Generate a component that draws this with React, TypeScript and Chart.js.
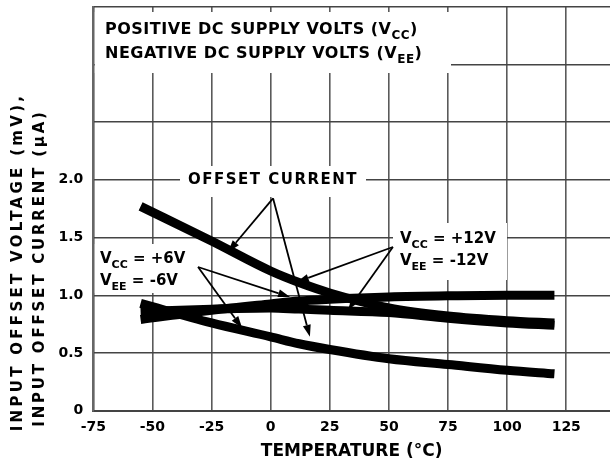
import { useEffect, useRef } from "react";
import { Chart, registerables } from "chart.js";

Chart.register(...registerables);

// ---- data ----
const temperatures = [-55, -25, 0, 12, 25, 50, 75, 100, 120];
const offsetCurrent12V = [1.77, 1.47, 1.21, 1.11, 1.02, 0.89, 0.82, 0.78, 0.76];
const offsetVoltage6V = [0.79, 0.87, 0.925, 0.95, 0.965, 0.985, 0.995, 1.0, 1.0];
const offsetVoltage12V = [0.86, 0.88, 0.89, 0.88, 0.87, 0.85, 0.8, 0.76, 0.74];
const offsetCurrent6V = [0.93, 0.76, 0.64, 0.58, 0.53, 0.45, 0.4, 0.35, 0.32];

const xMin = -75;
const xMax = 143.5;
const yMin = 0;
const yMax = 3.5;
const yTickLabels: Record<string, string> = { "0": "0", "0.5": "0.5", "1": "1.0", "1.5": "1.5", "2": "2.0" };

// annotation arrows in data coordinates [temperature, value]
const arrows: { from: [number, number]; to: [number, number] }[] = [
  { from: [1.0, 1.84], to: [-18, 1.375] },
  { from: [1.0, 1.84], to: [16.6, 0.64] },
  { from: [-30.7, 1.245], to: [8.2, 0.985] },
  { from: [-30.7, 1.245], to: [-12.1, 0.716] },
  { from: [51.7, 1.418], to: [11.1, 1.115] },
  { from: [51.7, 1.418], to: [32.7, 0.872] },
];

const FONT = '"DejaVu Sans", "Liberation Sans", Arial, sans-serif';

type Part = { t: string; sub?: boolean };

function drawRich(ctx: CanvasRenderingContext2D, parts: Part[], x: number, y: number, size: number, spacing: number) {
  let cx = x;
  for (const p of parts) {
    const fs = p.sub ? Math.round(size * 0.74) : size;
    ctx.font = `bold ${fs}px ${FONT}`;
    (ctx as any).letterSpacing = `${spacing}px`;
    ctx.fillText(p.t, cx, p.sub ? y + size * 0.3 : y);
    cx += ctx.measureText(p.t).width;
  }
}

function drawArrow(ctx: CanvasRenderingContext2D, x1: number, y1: number, x2: number, y2: number) {
  const ang = Math.atan2(y2 - y1, x2 - x1);
  const hl = 12;
  const hw = 4;
  const bx = x2 - hl * Math.cos(ang);
  const by = y2 - hl * Math.sin(ang);
  ctx.beginPath();
  ctx.moveTo(x1, y1);
  ctx.lineTo(bx, by);
  ctx.stroke();
  ctx.beginPath();
  ctx.moveTo(x2, y2);
  ctx.lineTo(bx + hw * Math.sin(ang), by - hw * Math.cos(ang));
  ctx.lineTo(bx - hw * Math.sin(ang), by + hw * Math.cos(ang));
  ctx.closePath();
  ctx.fill();
}

const overlayPlugin = {
  id: "overlay",
  beforeDatasetsDraw(chart: any) {
    const { ctx, chartArea: a } = chart;
    ctx.save();
    ctx.fillStyle = "#ffffff";
    // header box
    ctx.fillRect(a.left + 1.5, 12, 451 - (a.left + 1.5), 61);
    // OFFSET CURRENT label box
    ctx.fillRect(180, 166, 186, 31);
    // +-6V label box
    ctx.fillRect(a.left + 1.5, 244, 200 - (a.left + 1.5), 49);
    // +-12V label box
    ctx.fillRect(393, 223, 114, 57);
    ctx.restore();
  },
  afterDatasetsDraw(chart: any) {
    const { ctx, chartArea: a, scales } = chart;
    const xs = scales.x;
    const ys = scales.y;
    ctx.save();
    ctx.fillStyle = "#000";
    ctx.strokeStyle = "#000";
    ctx.lineWidth = 1.8;
    for (const ar of arrows) {
      drawArrow(
        ctx,
        xs.getPixelForValue(ar.from[0]),
        ys.getPixelForValue(ar.from[1]),
        xs.getPixelForValue(ar.to[0]),
        ys.getPixelForValue(ar.to[1])
      );
    }
    ctx.textBaseline = "alphabetic";
    ctx.textAlign = "left";
    // header
    drawRich(ctx, [{ t: "POSITIVE DC SUPPLY VOLTS (V" }, { t: "CC", sub: true }, { t: ")" }], 105, 34, 16, 0.5);
    drawRich(ctx, [{ t: "NEGATIVE DC SUPPLY VOLTS (V" }, { t: "EE", sub: true }, { t: ")" }], 105, 58, 16, 0.5);
    // OFFSET CURRENT
    drawRich(ctx, [{ t: "OFFSET CURRENT" }], 188, 184, 15, 1.5);
    // +-6V
    drawRich(ctx, [{ t: "V" }, { t: "CC", sub: true }, { t: " = +6V" }], 100, 263, 15, 0);
    drawRich(ctx, [{ t: "V" }, { t: "EE", sub: true }, { t: " = -6V" }], 100, 285, 15, 0);
    // +-12V
    drawRich(ctx, [{ t: "V" }, { t: "CC", sub: true }, { t: " = +12V" }], 400, 243, 15, 0);
    drawRich(ctx, [{ t: "V" }, { t: "EE", sub: true }, { t: " = -12V" }], 400, 265, 15, 0);

    // axis titles
    ctx.textAlign = "center";
    ctx.textBaseline = "middle";
    ctx.font = `bold 17px ${FONT}`;
    (ctx as any).letterSpacing = "0px";
    ctx.fillText("TEMPERATURE (°C)", (a.left + a.right) / 2, 452);

    ctx.save();
    ctx.translate(18, 262);
    ctx.rotate(-Math.PI / 2);
    ctx.font = `bold 15px ${FONT}`;
    (ctx as any).letterSpacing = "3.3px";
    ctx.fillText("INPUT OFFSET VOLTAGE (mV),", 0, 0);
    ctx.restore();
    ctx.save();
    ctx.translate(40, 268);
    ctx.rotate(-Math.PI / 2);
    ctx.font = `bold 15px ${FONT}`;
    (ctx as any).letterSpacing = "2.8px";
    ctx.fillText("INPUT OFFSET CURRENT (µA)", 0, 0);
    ctx.restore();
    ctx.restore();
  },
};

function series(values: number[]) {
  return temperatures.map((t, i) => ({ x: t, y: values[i] }));
}

export default function App() {
  const ref = useRef<HTMLCanvasElement | null>(null);
  useEffect(() => {
    if (!ref.current) return;
    const common = {
      borderColor: "#000",
      backgroundColor: "#000",
      borderWidth: 9,
      pointRadius: 0,
      cubicInterpolationMode: "monotone" as const,
      borderCapStyle: "butt" as const,
      fill: false,
    };
    const chart = new Chart(ref.current, {
      type: "line",
      data: {
        datasets: [
          { label: "Offset current ±12V", data: series(offsetCurrent12V), ...common },
          { label: "Offset voltage ±6V", data: series(offsetVoltage6V), ...common },
          { label: "Offset voltage ±12V", data: series(offsetVoltage12V), ...common },
          { label: "Offset current ±6V", data: series(offsetCurrent6V), ...common },
        ],
      },
      options: {
        animation: false,
        responsive: false,
        maintainAspectRatio: false,
        layout: { padding: { top: 6.7, right: 0, left: 0, bottom: 0 } },
        plugins: { legend: { display: false }, tooltip: { enabled: false }, title: { display: false } },
        scales: {
          x: {
            type: "linear",
            min: xMin,
            max: xMax,
            afterFit: (s: any) => {
              s.height = 55.3;
              s.paddingLeft = 0;
              s.paddingRight = 0;
            },
            ticks: {
              stepSize: 25,
              includeBounds: false,
              autoSkip: false,
              maxRotation: 0,
              padding: 8,
              color: "#000",
              font: { family: FONT, size: 14, weight: "bold" },
            },
            grid: { color: "#5a5a5a", lineWidth: 1.6, drawTicks: false },
            border: { display: true, color: "#444", width: 2 },
          },
          y: {
            type: "linear",
            min: yMin,
            max: yMax,
            afterFit: (s: any) => {
              s.width = 93.3;
              s.paddingTop = 0;
              s.paddingBottom = 0;
            },
            ticks: {
              stepSize: 0.5,
              autoSkip: false,
              padding: 10,
              color: "#000",
              font: { family: FONT, size: 14, weight: "bold" },
              callback: (v: any) => yTickLabels[String(v)] ?? "",
            },
            grid: { color: "#444", lineWidth: 1.4, drawTicks: false },
            border: { display: true, color: "#666", width: 2 },
          },
        },
      },
      plugins: [overlayPlugin],
    });
    return () => chart.destroy();
  }, []);
  return (
    <div style={{ position: "absolute", left: 0, top: 0, width: 610, height: 466, background: "#fff" }}>
      <canvas ref={ref} width={610} height={466} style={{ display: "block" }} />
    </div>
  );
}
